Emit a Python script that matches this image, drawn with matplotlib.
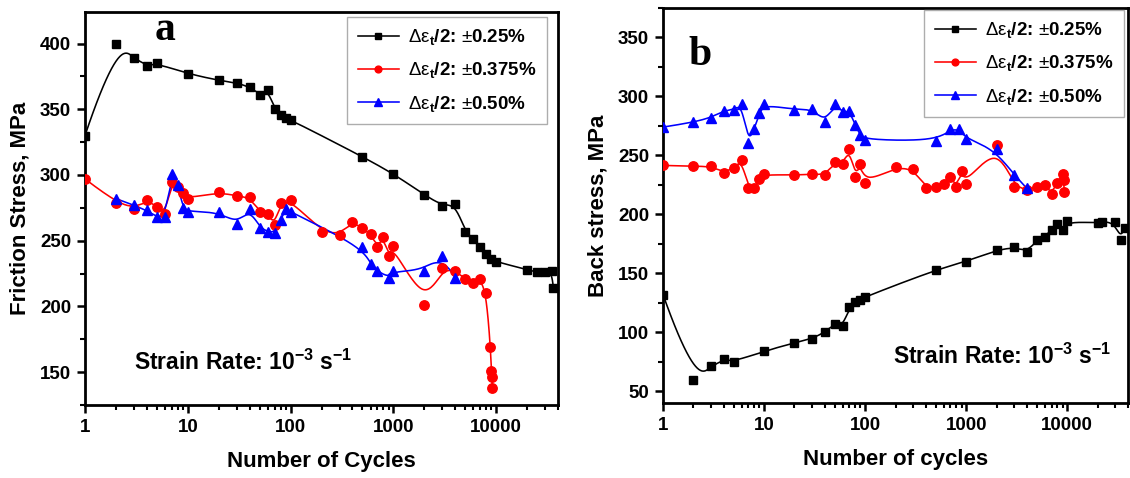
import numpy as np
import matplotlib
matplotlib.use("Agg")
import matplotlib.pyplot as plt
from matplotlib.ticker import LogLocator, FixedLocator, NullFormatter, FuncFormatter, MultipleLocator

plt.rcParams['font.family'] = ['Liberation Sans', 'DejaVu Sans']
plt.rcParams['mathtext.fontset'] = 'custom'
plt.rcParams['mathtext.rm'] = 'Liberation Sans'
plt.rcParams['mathtext.it'] = 'Liberation Sans:italic'
plt.rcParams['mathtext.bf'] = 'Liberation Sans:bold'

# ---------------- data ----------------
# (a) friction stress
fa_cyc_025 = [1, 2, 3, 4, 5, 10, 20, 30, 40, 50, 60, 70, 80, 90, 100, 500, 1000, 2000,
              3000, 4000, 5000, 6000, 7000, 8000, 9000, 10000, 20000, 25000, 30000, 35000, 36000]
fa_val_025 = [330, 400, 389, 383, 385, 377, 372, 370, 367, 361, 365, 350, 346, 343, 342, 314, 301, 285,
              276.5, 278, 257, 251, 245, 240, 236, 234, 228, 226, 226, 227, 214]

fa_cyc_0375 = [1, 2, 3, 4, 5, 6, 7, 8, 9, 10, 20, 30, 40, 50, 60, 70, 80, 100, 200, 300, 400, 500,
               600, 700, 800, 900, 1000, 2000, 3000, 4000, 5000, 6000, 7000, 8000, 8800, 9000, 9100, 9200]
fa_val_0375 = [297, 279, 274, 281, 276, 270, 294.5, 291, 286, 282, 287, 284, 283, 272, 270, 262, 279, 281,
               257, 254.5, 264.6, 259.6, 255, 245, 253, 238, 246, 201, 229, 227, 221, 218, 221, 210,
               169.5, 151, 146, 138]

fa_cyc_050 = [2, 3, 4, 5, 6, 7, 8, 9, 10, 20, 30, 40, 50, 60, 70, 80, 90, 100, 500, 600, 700, 900,
              1000, 2000, 3000, 4000]
fa_val_050 = [282, 277, 273, 268, 268, 301, 292, 275, 272, 272, 263, 274, 260, 257, 256, 266, 274, 272,
              245, 232, 227, 222, 227, 227, 238.6, 222]

# (b) back stress
bs_cyc_025 = [1, 2, 3, 4, 5, 10, 20, 30, 40, 50, 60, 70, 80, 90, 100, 500, 1000, 2000, 3000, 4000,
              5000, 6000, 7000, 8000, 9000, 10000, 20000, 22000, 30000, 34000, 37000]
bs_val_025 = [132, 59.3, 71, 77, 75, 84, 91, 94.7, 100, 107.4, 105, 121, 125.7, 127.7, 130, 153, 160,
              169.5, 172.3, 168, 178, 181, 187, 192, 187, 194, 192.6, 193.5, 193.5, 178.5, 188.7]

bs_cyc_0375 = [1, 2, 3, 4, 5, 6, 7, 8, 9, 10, 20, 30, 40, 50, 60, 70, 80, 90, 100, 200, 300, 400,
               500, 600, 700, 800, 900, 1000, 2000, 3000, 4000, 5000, 6000, 7000, 8000, 9000, 9200, 9400]
bs_val_0375 = [241.5, 240.7, 241.3, 235, 239.6, 246.4, 222, 222, 230, 234, 233, 234.5, 233, 244, 242.4,
               255.7, 232, 243, 226.5, 240, 238.7, 222.3, 223, 226, 232, 223, 237, 226, 259, 223, 221,
               223, 224.6, 217.5, 227, 234.5, 228.8, 219]

bs_cyc_050 = [1, 2, 3, 4, 5, 6, 7, 8, 9, 10, 20, 30, 40, 50, 60, 70, 80, 90, 100, 500, 700, 850,
              1000, 2000, 3000, 4000]
bs_val_050 = [274, 278, 282, 288, 288.7, 293.8, 260.4, 272.6, 285.8, 293.2, 288.7, 289.6, 278.2, 293.2,
              286.7, 288, 275.4, 267, 263.3, 262, 272, 272, 264, 255, 233, 222]

labels = [r'$\Delta\mathrm{\varepsilon}_{\mathbf{t}}$/2: $\pm$0.25%',
          r'$\Delta\mathrm{\varepsilon}_{\mathbf{t}}$/2: $\pm$0.375%',
          r'$\Delta\mathrm{\varepsilon}_{\mathbf{t}}$/2: $\pm$0.50%']
colors = ['#000000', '#ff0000', '#0000ff']
markers = ['s', 'o', '^']
msizes = [6, 6.8, 7.2]


def bspline(x, y, n=600, k=3):
    """Clamped cubic B-spline with the points as control polygon (log-x space)."""
    P = np.column_stack([np.log10(np.asarray(x, float)), np.asarray(y, float)])
    m = len(P)
    k = min(k, m - 1)
    knots = np.concatenate([np.zeros(k), np.linspace(0, 1, m - k + 1), np.ones(k)])
    t = np.linspace(0, 1, n)
    N = np.zeros((n, len(knots) - 1))
    for i in range(len(knots) - 1):
        N[:, i] = (knots[i] <= t) & (t < knots[i + 1])
    N[-1, :] = 0
    N[-1, m - 1] = 1
    for p in range(1, k + 1):
        Nn = np.zeros((n, len(knots) - 1 - p))
        for i in range(len(knots) - 1 - p):
            d1 = knots[i + p] - knots[i]
            d2 = knots[i + p + 1] - knots[i + 1]
            a = (t - knots[i]) / d1 * N[:, i] if d1 > 0 else 0
            b = (knots[i + p + 1] - t) / d2 * N[:, i + 1] if d2 > 0 else 0
            Nn[:, i] = a + b
        N = Nn
    C = N @ P
    return 10 ** C[:, 0], C[:, 1]


def draw_panel(ax, series, ylim, ymajor, ylabel, xlabel):
    for (xs, ys), lab, c, mk, ms in zip(series, labels, colors, markers, msizes):
        cx, cy = bspline(xs, ys)
        ax.plot(cx, cy, color=c, lw=1.15, zorder=2)
        ax.plot(xs, ys, ls='none', marker=mk, ms=ms, color=c, zorder=3)
        ax.plot([], [], color=c, lw=1.15, marker=mk, ms=ms * 0.72, label=lab)
    ax.set_xscale('log')
    ax.set_xlim(1, 40000)
    ax.set_ylim(*ylim)
    ax.xaxis.set_major_locator(FixedLocator([1, 10, 100, 1000, 10000]))
    ax.xaxis.set_major_formatter(FuncFormatter(lambda v, p: f'{int(round(v))}'))
    ax.xaxis.set_minor_locator(LogLocator(base=10, subs=np.arange(2, 10)))
    ax.xaxis.set_minor_formatter(NullFormatter())
    ax.yaxis.set_major_locator(MultipleLocator(ymajor))
    ax.yaxis.set_minor_locator(MultipleLocator(ymajor / 2))
    for s in ax.spines.values():
        s.set_linewidth(2)
    ax.tick_params(which='major', direction='out', length=6, width=1.8, labelsize=13.5, pad=4)
    ax.tick_params(which='minor', direction='out', length=3.5, width=1.5)
    ax.tick_params(top=False, right=False, which='both')
    for lb in ax.get_xticklabels() + ax.get_yticklabels():
        lb.set_fontweight('bold')
    ax.set_xlabel(xlabel, fontsize=16, fontweight='bold', labelpad=11)
    ax.set_ylabel(ylabel, fontsize=16, fontweight='bold', labelpad=7)


fig = plt.figure(figsize=(11.3, 4.78), dpi=100)
ax_a = fig.add_axes([85 / 1130, 73 / 478, 473 / 1130, 393 / 478])
ax_b = fig.add_axes([663 / 1130, 75 / 478, 465 / 1130, 395 / 478])

draw_panel(ax_a, [(fa_cyc_025, fa_val_025), (fa_cyc_0375, fa_val_0375), (fa_cyc_050, fa_val_050)],
           (125, 424), 50, 'Friction Stress, MPa', 'Number of Cycles')
draw_panel(ax_b, [(bs_cyc_025, bs_val_025), (bs_cyc_0375, bs_val_0375), (bs_cyc_050, bs_val_050)],
           (40, 375), 50, 'Back stress, MPa', 'Number of cycles')

leg_kw = dict(loc='upper right', fontsize=13.5, frameon=True, fancybox=False, handlelength=2.2,
              handletextpad=0.5, labelspacing=0.7, borderpad=0.55, borderaxespad=0)
for ax, anchor in ((ax_a, (547 / 1130, 461 / 478)), (ax_b, (1124 / 1130, 468 / 478))):
    leg = ax.legend(bbox_to_anchor=anchor, bbox_transform=fig.transFigure, **leg_kw)
    leg.get_frame().set_edgecolor('#999999')
    leg.get_frame().set_linewidth(1.0)
    for tx in leg.get_texts():
        tx.set_fontweight('bold')

# panel letters
fig.text(165 / 1130, 1 - 30 / 478, 'a', family=['Liberation Serif', 'DejaVu Serif'],
         fontweight='bold', fontsize=30, ha='center', va='center')
fig.text(700 / 1130, 1 - 55 / 478, 'b', family=['Liberation Serif', 'DejaVu Serif'],
         fontweight='bold', fontsize=30, ha='center', va='center')

rate = r'Strain Rate: 10$^{\mathbf{-3}}$ s$^{\mathbf{-1}}$'
ax_a.text(134 / 1130, 1 - 362 / 478, rate, transform=fig.transFigure, fontsize=16.5,
          fontweight='bold', ha='left', va='center')
ax_b.text(893 / 1130, 1 - 356 / 478, rate, transform=fig.transFigure, fontsize=16.5,
          fontweight='bold', ha='left', va='center')

fig.savefig('out.png', dpi=100)
